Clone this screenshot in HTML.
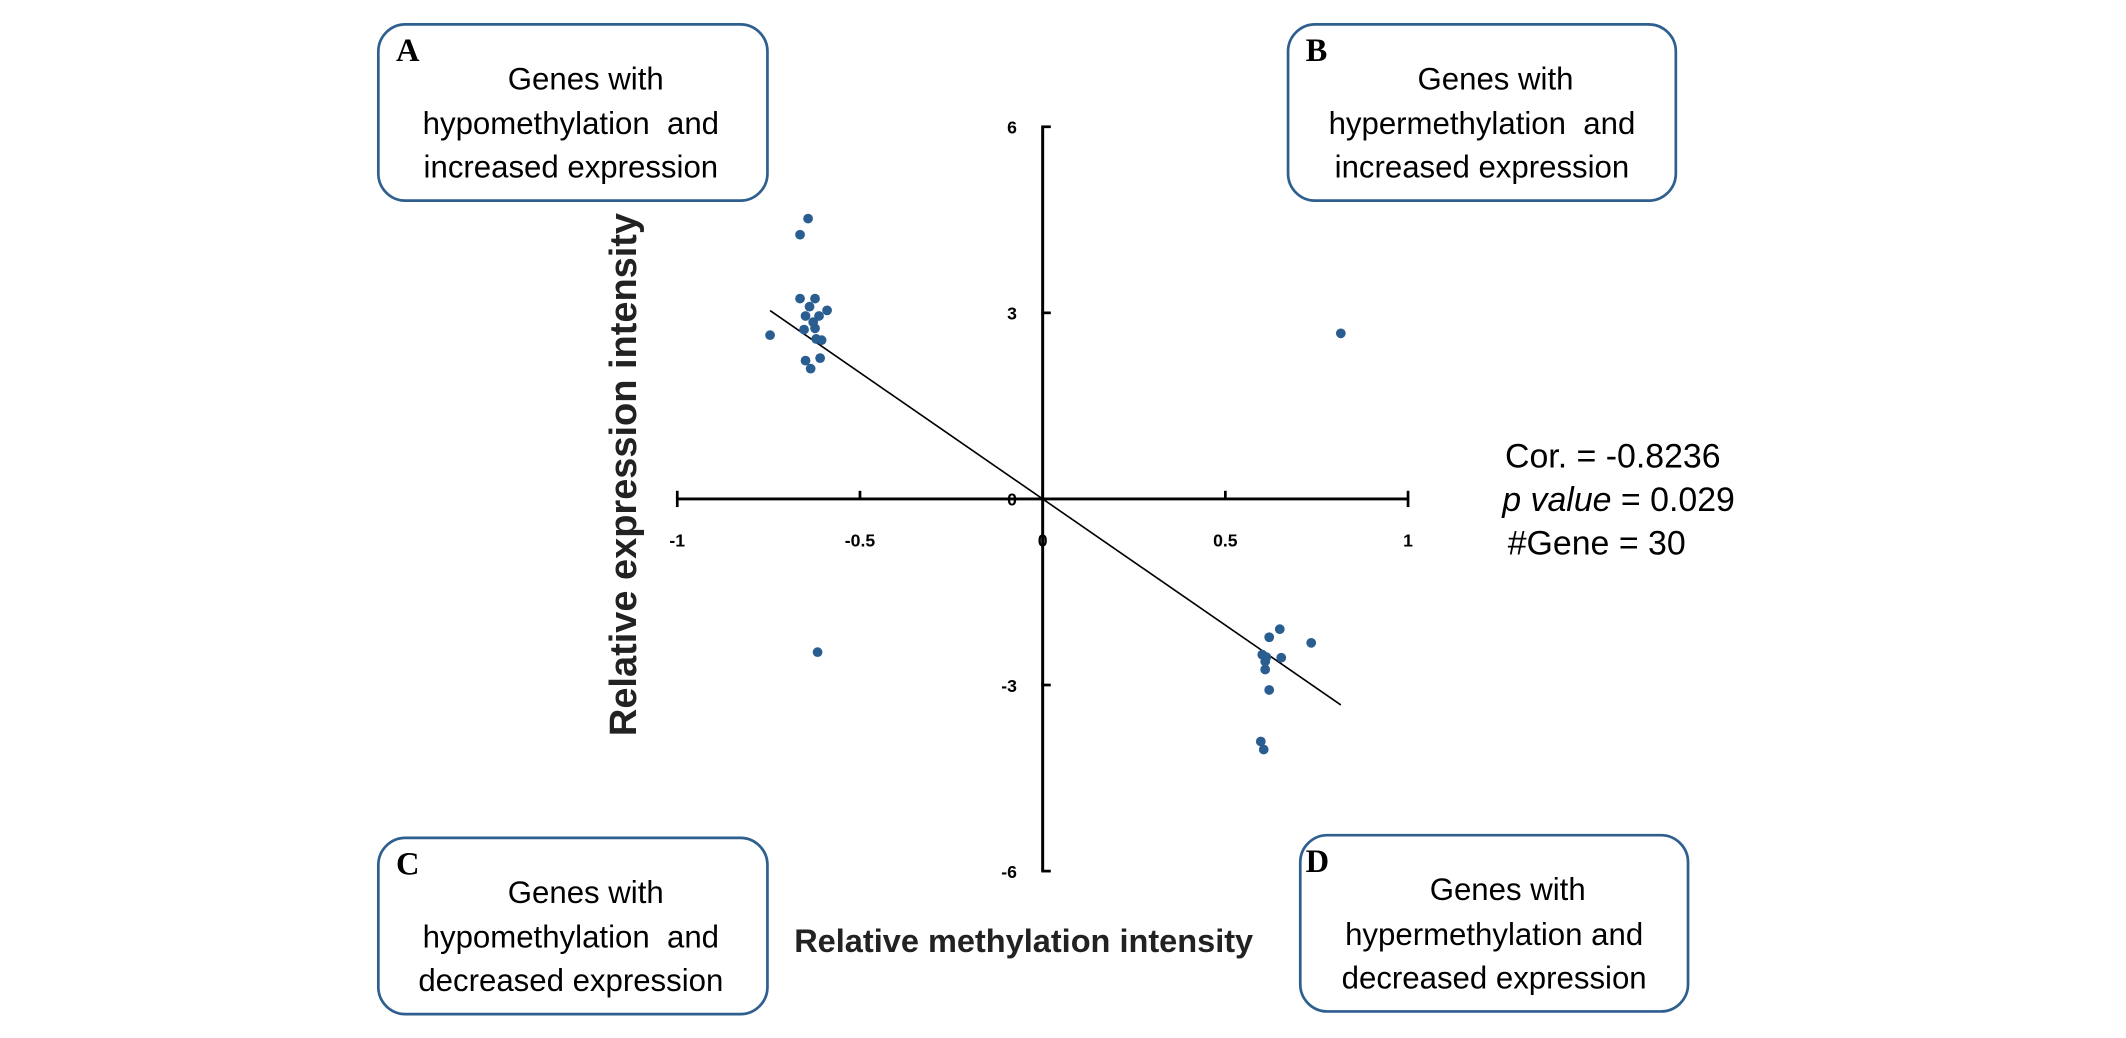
<!DOCTYPE html>
<html><head><meta charset="utf-8"><style>
html,body{margin:0;padding:0;background:#fff;}
svg{display:block;}
text{font-family:"Liberation Sans",Arial,sans-serif;}
.ltr{font-family:"Liberation Serif",serif;}
</style></head><body>
<svg id="chart" width="2126" height="1038" viewBox="0 0 1568 765.6" xmlns="http://www.w3.org/2000/svg">
<g>
<rect x="279" y="18" width="287" height="130" rx="20" fill="#fff" stroke="#2e5f8f" stroke-width="2"/>
<text class="ltr" x="292" y="45" font-weight="bold" font-size="24">A</text>
<text x="432" y="66" text-anchor="middle" font-size="23">Genes with</text>
<text x="421" y="99" text-anchor="middle" font-size="23">hypomethylation&#160; and</text>
<text x="421" y="131" text-anchor="middle" font-size="23">increased expression</text>
</g>
<g>
<rect x="950" y="18" width="286" height="130" rx="20" fill="#fff" stroke="#2e5f8f" stroke-width="2"/>
<text class="ltr" x="963" y="45" font-weight="bold" font-size="24">B</text>
<text x="1103" y="66" text-anchor="middle" font-size="23">Genes with</text>
<text x="1093" y="99" text-anchor="middle" font-size="23">hypermethylation&#160; and</text>
<text x="1093" y="131" text-anchor="middle" font-size="23">increased expression</text>
</g>
<g>
<rect x="279" y="618" width="287" height="130" rx="20" fill="#fff" stroke="#2e5f8f" stroke-width="2"/>
<text class="ltr" x="292" y="645" font-weight="bold" font-size="24">C</text>
<text x="432" y="666" text-anchor="middle" font-size="23">Genes with</text>
<text x="421" y="699" text-anchor="middle" font-size="23">hypomethylation&#160; and</text>
<text x="421" y="731" text-anchor="middle" font-size="23">decreased expression</text>
</g>
<g>
<rect x="959" y="616" width="286" height="130" rx="20" fill="#fff" stroke="#2e5f8f" stroke-width="2"/>
<text class="ltr" x="963" y="643" font-weight="bold" font-size="24">D</text>
<text x="1112" y="664" text-anchor="middle" font-size="23">Genes with</text>
<text x="1102" y="697" text-anchor="middle" font-size="23">hypermethylation and</text>
<text x="1102" y="729" text-anchor="middle" font-size="23">decreased expression</text>
</g>
<text transform="translate(469,350) rotate(-90)" text-anchor="middle" font-size="28" font-weight="bold" fill="#222">Relative expression intensity</text>
<text x="755" y="702" text-anchor="middle" font-size="24" font-weight="bold" fill="#222">Relative methylation intensity</text>
<g font-size="25">
<text x="1110" y="345">Cor. = -0.8236</text>
<text x="1108" y="377"><tspan font-style="italic">p value</tspan> = 0.029</text>
<text x="1112" y="409">#Gene = 30</text>
</g>
<g id="axes"></g>
<g id="marks"></g>
</svg>
<script>
const xTicks=[-1,-0.5,0,0.5,1];
const xTickLabels=["-1","-0.5","0","0.5","1"];
const yTicks=[6,3,0,-3,-6];
const yTickLabels=["6","3","0","-3","-6"];
const methylation=[-0.642,-0.664,-0.664,-0.623,-0.638,-0.612,-0.590,-0.649,-0.653,-0.623,-0.620,-0.605,-0.746,-0.649,-0.609,-0.635,-0.616,0.816,0.649,0.620,0.735,0.601,0.653,0.609,0.609,0.620,0.597,0.605,-0.628,0.612];
const expression=[4.52,4.26,3.23,3.23,3.10,2.95,3.04,2.95,2.73,2.75,2.58,2.56,2.64,2.23,2.27,2.10,-2.47,2.67,-2.10,-2.23,-2.32,-2.51,-2.56,-2.62,-2.75,-3.08,-3.91,-4.04,2.85,-2.55];
const fitSlope=[-4.07];
const fitIntercept=[0.0];
const fitRange=[-0.746,0.816];
const NS="http://www.w3.org/2000/svg";
const X0=769,XS=269.5,Y0=368,YS=45.75;
const sx=v=>X0+v*XS, sy=v=>Y0-v*YS;
function mk(t,a,p){const e=document.createElementNS(NS,t);for(const k in a)e.setAttribute(k,a[k]);p.appendChild(e);return e;}
const axes=document.getElementById('axes'),marks=document.getElementById('marks');
const xa=mk('line',{x1:sx(-1),x2:sx(1),y1:Y0,y2:Y0,stroke:'#000','stroke-width':2.2},axes);


const ya=mk('line',{x1:X0,x2:X0,y1:sy(6),y2:sy(-6),stroke:'#000','stroke-width':2.2},axes);


xTicks.forEach((v,i)=>{
  const end=(v===-1||v===1);
  mk('line',{x1:sx(v),x2:sx(v),y1:Y0-6,y2:end?Y0+6:Y0,stroke:'#000','stroke-width':2},axes);
  const t=mk('text',{x:sx(v),y:Y0+35,'text-anchor':'middle','font-size':13,'font-weight':'bold'},axes);
  t.textContent=xTickLabels[i];
  
  
});
yTicks.forEach((v,i)=>{
  if(v!==0) mk('line',{x1:X0-1,x2:X0+6,y1:sy(v),y2:sy(v),stroke:'#000','stroke-width':2},axes);
  const t=mk('text',{x:X0-19,y:sy(v)+5,'text-anchor':'end','font-size':13,'font-weight':'bold'},axes);
  t.textContent=yTickLabels[i];
  
  
});
const fl=mk('line',{x1:sx(fitRange[0]),y1:sy(fitIntercept[0]+fitSlope[0]*fitRange[0]),x2:sx(fitRange[1]),y2:sy(fitIntercept[0]+fitSlope[0]*fitRange[1]),stroke:'#000','stroke-width':1.2},marks);


methylation.forEach((m,i)=>{
  const c=mk('circle',{cx:sx(m),cy:sy(expression[i]),r:3.6,fill:'#2a5d90'},marks);
  
  
});
</script>
</body></html>
